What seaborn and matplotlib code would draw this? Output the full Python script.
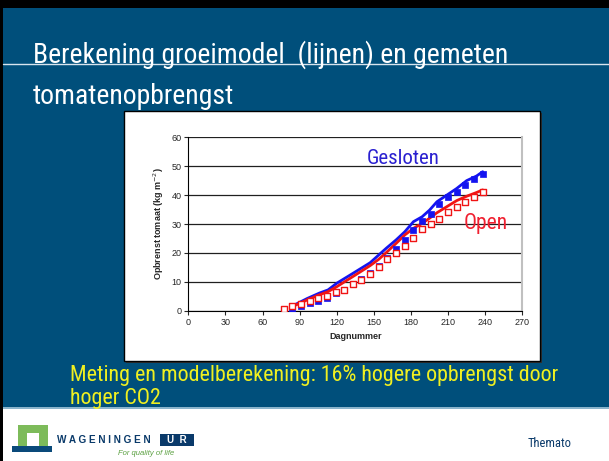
import numpy as np
import pandas as pd
import matplotlib
matplotlib.use("Agg")
import matplotlib.pyplot as plt
from matplotlib.patches import Rectangle
from matplotlib.lines import Line2D
import seaborn as sns

# measured yield (kg m-2), one measurement per week
meet_dagen = [77, 84, 91, 98, 105, 112, 119, 126, 133, 140, 147, 154,
              161, 168, 175, 182, 189, 196, 203, 210, 217, 224, 231, 238]
gemeten_gesloten = [np.nan, 0.7, 1.7, 2.6, 3.3, 4.3, 6.0, 7.3, 9.2, 10.8, 12.9, 15.6,
                    18.3, 21.5, 24.5, 27.9, 31.0, 33.3, 36.8, 39.2, 41.1, 43.5, 45.5, 47.3]
gemeten_open = [0.5, 1.5, 2.3, 3.3, 4.3, 5.2, 6.3, 7.3, 9.2, 10.6, 12.6, 15.1,
                17.8, 19.8, 22.4, 25.2, 28.2, 30.0, 31.8, 34.0, 36.0, 37.6, 39.2, 41.0]

# growth model output
model_dagen = [84, 96, 106, 113, 120, 133, 147, 154, 160, 168, 175, 182,
               189, 195, 201, 209, 217, 225, 233, 238]
model_gesloten = [1.6, 4.2, 6.1, 7.2, 9.5, 12.9, 16.6, 19.3, 21.6, 24.5, 27.3, 30.8,
                  32.5, 34.8, 37.7, 40.0, 42.3, 45.0, 46.6, 48.1]
model_open = [1.4, 3.7, 5.5, 6.6, 8.3, 11.8, 15.6, 17.8, 20.1, 23.3, 26.2, 28.5,
              30.2, 32.0, 33.9, 36.0, 38.1, 39.6, 40.9, 41.8]

BLAUW = "#1414f0"
ROOD = "#f01414"
ACHTERGROND = "#004f7b"

sns.set_style("white")
plt.rcParams["font.family"] = ["Liberation Sans", "DejaVu Sans"]
NARROW = ["Roboto Condensed", "Liberation Sans Narrow", "Liberation Sans", "DejaVu Sans"]

W, H = 609, 461
fig = plt.figure(figsize=(W / 100, H / 100), dpi=100, facecolor=ACHTERGROND)


def px_rect(x0, y0, x1, y1, **kw):
    # rectangle in pixel coordinates (origin top-left)
    fig.patches.append(Rectangle((x0 / W, 1 - y1 / H), (x1 - x0) / W, (y1 - y0) / H,
                                 transform=fig.transFigure, figure=fig, **kw))


# slide frame
px_rect(0, 408, W, H, facecolor="white", edgecolor="none")
px_rect(0, 407, W, 409, facecolor="#8ab4cc", edgecolor="none")
px_rect(0, 0, W, 8, facecolor="black", edgecolor="none")
px_rect(0, 0, 3, H, facecolor="black", edgecolor="none")
fig.lines.append(Line2D([3 / W, 1], [1 - 64.5 / H] * 2, transform=fig.transFigure,
                        color="#d8e4ee", lw=1))
# chart box
px_rect(126, 113, 542, 363, facecolor="#303030", edgecolor="none")
px_rect(124, 111, 540, 361, facecolor="white", edgecolor="black", lw=1)

# titles
fig.text(33 / W, 1 - 63 / H, "Berekening groeimodel  (lijnen) en gemeten",
         family=NARROW, fontsize=20, color="white", va="baseline")
fig.text(33 / W, 1 - 104 / H, "tomatenopbrengst",
         family=NARROW, fontsize=20, color="white", va="baseline")
fig.text(70 / W, 1 - 381 / H, "Meting en modelberekening: 16% hogere opbrengst door",
         family=NARROW, fontsize=15.8, color="#f0f020", va="baseline")
fig.text(70 / W, 1 - 404 / H, "hoger CO2",
         family=NARROW, fontsize=15.8, color="#f0f020", va="baseline")

# footer logo
px_rect(18, 425, 48, 448, facecolor="#7dbb5a", edgecolor="none")
px_rect(27, 433, 39, 448, facecolor="white", edgecolor="none")
px_rect(12, 446, 52, 452, facecolor="#0a4a7a", edgecolor="none")
fig.text(57 / W, 1 - 440 / H, "W A G E N I N G E N", fontsize=7.2, color="#0a3a6a",
         fontweight="bold", va="center")
px_rect(160, 434, 194, 446, facecolor="#0a3a6a", edgecolor="none")
fig.text(177 / W, 1 - 440 / H, "U  R", fontsize=7, color="white",
         fontweight="bold", va="center", ha="center")
fig.text(118 / W, 1 - 453 / H, "For quality of life", fontsize=5.5, color="#5aa040",
         style="italic", va="center")
fig.text(528 / W, 1 - 443 / H, "Themato", family=NARROW, fontsize=9,
         color="#0a3a6a", va="center")

# chart
ax = fig.add_axes([188.3 / W, 1 - 310.7 / H, 334 / W, 173.4 / H])
ax.set_zorder(5)
ax.set_facecolor("white")

model = pd.DataFrame({
    "dag": model_dagen * 2,
    "opbrengst": model_gesloten + model_open,
    "kas": ["Gesloten"] * len(model_dagen) + ["Open"] * len(model_dagen),
})
sns.lineplot(data=model, x="dag", y="opbrengst", hue="kas",
             palette={"Gesloten": BLAUW, "Open": ROOD}, lw=2, legend=False, ax=ax,
             zorder=3)
sns.scatterplot(x=meet_dagen, y=gemeten_gesloten, marker="s", s=16, color=BLAUW,
                edgecolor=BLAUW, linewidth=0.5, ax=ax, zorder=4)
sns.scatterplot(x=meet_dagen, y=gemeten_open, marker="s", s=16, facecolor="white",
                edgecolor=ROOD, linewidth=1, ax=ax, zorder=5)

ax.set_xlim(0, 270)
ax.set_ylim(0, 60)
ax.set_xticks(range(0, 271, 30))
ax.set_yticks(range(0, 61, 10))
ax.yaxis.grid(True, color="#202020", lw=0.9)
ax.set_axisbelow(True)
ax.spines["top"].set_visible(False)
ax.spines["right"].set_color("#c0c0c0")
ax.spines["right"].set_linewidth(1.5)
ax.spines["left"].set_color("black")
ax.spines["bottom"].set_color("black")
ax.tick_params(axis="both", labelsize=6.5, length=3, width=0.8, direction="out",
               bottom=True, left=True, pad=2)
ax.set_xlabel("Dagnummer", fontsize=6.5, fontweight="bold", labelpad=4)
ax.set_ylabel("Opbrenst tomaat (kg m$^{-2}$)", fontsize=6.5, fontweight="bold",
              labelpad=4)

ax.text(174, 50.6, "Gesloten", family=NARROW, fontsize=15, color="#2a20d0",
        ha="center", va="baseline")
ax.text(240, 30.3, "Open", family=NARROW, fontsize=15.5, color="#f02030",
        ha="center", va="center")

fig.savefig("out.png", dpi=100, facecolor=fig.get_facecolor())
